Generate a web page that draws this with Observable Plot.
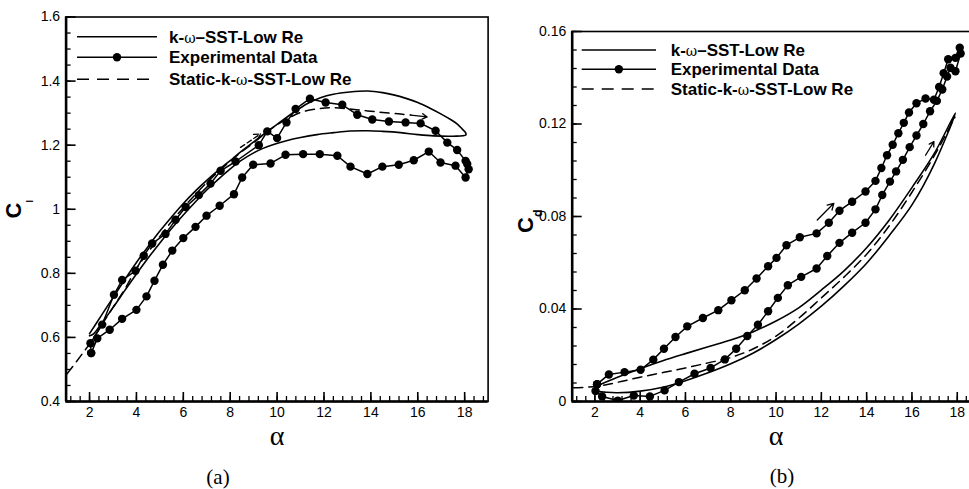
<!DOCTYPE html>
<html><head><meta charset="utf-8">
<script src="https://cdn.jsdelivr.net/npm/d3@7"></script>
<script src="https://cdn.jsdelivr.net/npm/@observablehq/plot@0.6"></script>
<style>
html,body{margin:0;padding:0;background:#fff;}
#wrap{position:relative;width:969px;height:489px;overflow:hidden;background:#fff;}
#wrap svg{position:absolute;top:0;}
</style></head><body><div id="wrap"></div>
<script>
// ---------- DATA ----------
const xTicks = [2, 4, 6, 8, 10, 12, 14, 16, 18];
const clTicks = [0.4, 0.6, 0.8, 1.0, 1.2, 1.4, 1.6];
const cdTicks = [0, 0.04, 0.08, 0.12, 0.16];
const legendLabels = ["k-ω–SST-Low Re", "Experimental Data", "Static-k-ω-SST-Low Re"];
const panelCaptions = ["(a)", "(b)"];

// (a) lift: k-omega SST dynamic loop (upstroke then downstroke)
const clSstAlpha = [2.0, 2.5, 3, 3.5, 4, 4.5, 5, 5.5, 6, 6.5, 7, 7.5, 8, 8.5, 9, 9.5, 10, 10.7, 11.3, 11.85, 12.4, 13.1, 13.86, 14.5, 14.97, 15.5, 16, 16.5, 17, 17.4, 17.7, 17.9, 18.04, 18.05,
  17.5, 16.68, 16, 15.27, 14.5, 13.86, 13.1, 12.41, 11.7, 11.0, 10.4, 9.85, 9.4, 9.0, 8.44, 8, 7.5, 7, 6.5, 6, 5.5, 5, 4.5, 4, 3.5, 3, 2.5, 2.17, 2.0];
const clSstValue = [0.612, 0.668, 0.724, 0.78, 0.834, 0.884, 0.932, 0.976, 1.018, 1.056, 1.09, 1.122, 1.152, 1.182, 1.21, 1.238, 1.265, 1.302, 1.330, 1.348, 1.359, 1.366, 1.369, 1.364, 1.357, 1.346, 1.333, 1.316, 1.297, 1.280, 1.265, 1.250, 1.239, 1.232,
  1.228, 1.229, 1.233, 1.239, 1.243, 1.245, 1.244, 1.239, 1.233, 1.224, 1.214, 1.202, 1.19, 1.176, 1.151, 1.126, 1.094, 1.06, 1.022, 0.982, 0.94, 0.895, 0.848, 0.798, 0.746, 0.693, 0.642, 0.611, 0.605];
// (a) lift: static k-omega SST
const clStaticAlpha = [1.05, 1.6, 2, 2.5, 3, 3.5, 4, 4.5, 5, 5.5, 6, 6.5, 7, 7.5, 8, 8.5, 9, 9.5, 10, 10.5, 11, 11.7, 12.4, 13.1, 13.86, 14.5, 15.27, 15.7];
const clStaticValue = [0.487, 0.540, 0.58, 0.637, 0.694, 0.75, 0.815, 0.866, 0.915, 0.962, 1.005, 1.045, 1.083, 1.118, 1.150, 1.18, 1.208, 1.238, 1.264, 1.285, 1.302, 1.313, 1.317, 1.313, 1.307, 1.302, 1.297, 1.294];
// (a) lift: experiment
const clExpAlpha = [2.07, 2.04, 2.54, 3.04, 3.39, 3.96, 4.31, 4.67, 5.24, 5.67, 6.10, 6.66, 7.16, 7.59, 8.23, 9.22, 9.58, 10.0, 10.40, 10.79, 11.40, 12.07, 12.78, 13.42, 14.06, 14.77, 15.48, 16.12, 16.76, 17.26, 17.68, 18.04, 18.11, 18.17, 18.04,
  17.61, 16.97, 16.47, 15.83, 15.19, 14.49, 13.85, 13.13, 12.57, 11.82, 11.11, 10.36, 9.72, 8.98, 8.51, 8.16, 7.55, 6.99, 6.52, 6.0, 5.53, 5.13, 4.77, 4.43, 4.0, 3.39, 2.86, 2.33, 2.07];
const clExpValue = [0.551, 0.582, 0.640, 0.733, 0.779, 0.808, 0.855, 0.893, 0.923, 0.967, 1.007, 1.044, 1.080, 1.120, 1.149, 1.200, 1.243, 1.222, 1.271, 1.313, 1.345, 1.333, 1.326, 1.295, 1.280, 1.274, 1.271, 1.268, 1.245, 1.208, 1.185, 1.151, 1.141, 1.125, 1.099,
  1.136, 1.146, 1.180, 1.153, 1.139, 1.133, 1.110, 1.133, 1.167, 1.172, 1.172, 1.170, 1.143, 1.139, 1.099, 1.047, 1.011, 0.980, 0.945, 0.910, 0.871, 0.827, 0.777, 0.728, 0.686, 0.658, 0.624, 0.597, 0.551];
// (a) direction arrows [alpha1, cl1, alpha2, cl2]
const clArrowDashed = [[8.44, 1.193, 9.29, 1.235]];
const clArrowSolid = [[15.7, 1.294, 16.4, 1.288]];

// (b) drag: k-omega SST loop
const cdSstAlpha = [2.03, 3, 4, 5, 6, 7, 8, 9, 10, 11, 12, 13, 14, 15, 16, 17, 17.92,
  17, 16, 15, 14, 13, 12, 11, 10, 9, 8, 7, 6, 5, 4, 3, 2.5, 2.03];
const cdSstValue = [0.0065, 0.0105, 0.0142, 0.0176, 0.0207, 0.0237, 0.0266, 0.0302, 0.0348, 0.0405, 0.0482, 0.0565, 0.0665, 0.0785, 0.0925, 0.1075, 0.1248,
  0.1030, 0.0850, 0.0718, 0.0598, 0.0500, 0.0412, 0.0335, 0.0268, 0.0210, 0.0163, 0.0124, 0.0090, 0.0062, 0.0045, 0.0038, 0.0040, 0.0045];
// (b) drag: static
const cdStaticAlpha = [1.07, 2.1, 3, 4, 5, 6, 7, 8, 9, 10, 11, 12, 13, 14, 15, 16, 17, 17.9];
const cdStaticValue = [0.0059, 0.0066, 0.0083, 0.0105, 0.0125, 0.0145, 0.0167, 0.0190, 0.0228, 0.0283, 0.0360, 0.0448, 0.0538, 0.0637, 0.0760, 0.0905, 0.1065, 0.1230];
// (b) drag: experiment
const cdExpAlpha = [2.1, 2.62, 3.31, 4.02, 4.58, 5.05, 5.56, 6.08, 6.77, 7.45, 8.03, 8.62, 9.14, 9.65, 10.02, 10.46, 11.05, 11.79, 12.33, 12.80, 13.36, 13.95, 14.39, 14.65, 14.90, 15.15, 15.40, 15.64, 15.87, 16.20, 16.60, 16.97, 17.20, 17.40, 17.60, 17.92, 18.11, 18.15,
  17.92, 17.70, 17.55, 17.34, 17.10, 16.80, 16.50, 16.20, 15.90, 15.60, 15.30, 15.03, 14.69, 14.39, 13.95, 13.36, 12.80, 12.26, 11.79, 11.11, 10.52, 10.08, 9.65, 9.20, 8.73, 8.24, 7.74, 7.11, 6.40, 5.71, 5.08, 4.43, 3.72, 3.01, 2.32, 2.03, 2.1];
const cdExpValue = [0.0075, 0.0117, 0.0127, 0.0137, 0.0181, 0.0228, 0.0279, 0.0325, 0.0361, 0.0395, 0.0438, 0.0481, 0.0532, 0.0585, 0.0621, 0.0676, 0.0710, 0.0727, 0.0773, 0.0825, 0.0864, 0.0908, 0.0954, 0.1010, 0.1065, 0.1110, 0.1160, 0.1205, 0.1250, 0.1290, 0.1310, 0.1305, 0.1360, 0.1420, 0.1480, 0.1486, 0.1530, 0.1505,
  0.1428, 0.1443, 0.1405, 0.1349, 0.1300, 0.1255, 0.1200, 0.1150, 0.1100, 0.1045, 0.0995, 0.0951, 0.0893, 0.0831, 0.0773, 0.0730, 0.0686, 0.0629, 0.0575, 0.0539, 0.0503, 0.0448, 0.0390, 0.0332, 0.0283, 0.0228, 0.0182, 0.0145, 0.0120, 0.0084, 0.0048, 0.0022, 0.0026, 0.0004, 0.0022, 0.0045, 0.0075];
const cdArrowSolid = [[11.82, 0.0785, 12.55, 0.0857], [16.6, 0.1065, 16.97, 0.1124]];

// ---------- DRAWING ----------
const rows = (a, v) => a.map((d, i) => ({a: d, v: v[i]}));
const arrows = (list) => list.map(([x1, y1, x2, y2]) => ({x1, y1, x2, y2}));
const fmt = (d) => String(+d.toFixed(3));
const FONT = "'Liberation Sans', Arial, Helvetica, sans-serif";
const xMinor = d3.range(1.2, 19.0, 0.4);

function panel(o) {
  const plotH = o.height - o.mT - o.mB;
  const plotW = o.width - o.mL - o.mR;
  return Plot.plot({
    width: o.width, height: o.height,
    marginLeft: o.mL, marginRight: o.mR, marginTop: o.mT, marginBottom: o.mB,
    x: {domain: [1, 19], axis: null},
    y: {domain: o.yDomain, axis: null},
    style: {fontFamily: FONT, fontSize: "14px", color: "black", background: "transparent", overflow: "visible"},
    marks: [
      Plot.line(o.sst, {x: "a", y: "v", stroke: "black", strokeWidth: 1.6, curve: "catmull-rom", clip: true}),
      Plot.line(o.stat, {x: "a", y: "v", stroke: "black", strokeWidth: 1.5, strokeDasharray: "9,6", curve: "catmull-rom", clip: true}),
      Plot.line(o.exp, {x: "a", y: "v", stroke: "black", strokeWidth: 1.5, clip: true}),
      Plot.dot(o.exp, {x: "a", y: "v", r: 4.2, fill: "black", stroke: "none", clip: true}),
      Plot.arrow(o.dashedArrows, {x1: "x1", y1: "y1", x2: "x2", y2: "y2", stroke: "black", strokeWidth: 1.3, headLength: 8, strokeDasharray: "5,3"}),
      Plot.arrow(o.solidArrows, {x1: "x1", y1: "y1", x2: "x2", y2: "y2", stroke: "black", strokeWidth: 1.3, headLength: 8}),
      // inward ticks
      Plot.ruleX(xMinor, {stroke: "black", strokeWidth: 1.3, insetTop: plotH - 5}),
      Plot.ruleX(xTicks, {stroke: "black", strokeWidth: 1.6, insetTop: plotH - 9}),
      Plot.ruleY(o.yMinor, {stroke: "black", strokeWidth: 1.3, insetRight: plotW - 5}),
      Plot.ruleY(o.yTicks, {stroke: "black", strokeWidth: 1.6, insetRight: plotW - 10}),
      Plot.frame({stroke: "black", strokeWidth: 1.6}),
      Plot.ruleY([o.yDomain[0]], {stroke: "black", strokeWidth: 2.6}),
      Plot.ruleX([1], {stroke: "black", strokeWidth: 2.6}),
      Plot.axisX(xTicks, {tickSize: 0, tickPadding: 6, tickFormat: fmt, label: null, fontSize: 14}),
      Plot.axisY(o.yTicks, {tickSize: 0, tickPadding: 6, tickFormat: fmt, label: null, fontSize: 14})
    ]
  });
}

const wrap = document.getElementById("wrap");
const left = panel({
  width: 500, height: 440, mL: 65.6, mR: 12.4, mT: 16.5, mB: 39,
  yDomain: [0.4, 1.6], yTicks: clTicks, yMinor: d3.range(0.4, 1.6001, 0.05),
  sst: rows(clSstAlpha, clSstValue), stat: rows(clStaticAlpha, clStaticValue), exp: rows(clExpAlpha, clExpValue),
  dashedArrows: arrows(clArrowDashed), solidArrows: arrows(clArrowSolid)
});
left.style.left = "0px";
wrap.appendChild(left);

const right = panel({
  width: 510, height: 440, mL: 91.7, mR: 10.6, mT: 31, mB: 39,
  yDomain: [0, 0.16], yTicks: cdTicks, yMinor: d3.range(0, 0.1601, 0.008),
  sst: rows(cdSstAlpha, cdSstValue), stat: rows(cdStaticAlpha, cdStaticValue), exp: rows(cdExpAlpha, cdExpValue),
  dashedArrows: [], solidArrows: arrows(cdArrowSolid)
});
right.style.left = "480px";
wrap.appendChild(right);

// ---------- OVERLAY: legends, axis titles, captions ----------
const NS = "http://www.w3.org/2000/svg";
const ov = document.createElementNS(NS, "svg");
ov.setAttribute("width", 969); ov.setAttribute("height", 489);
ov.style.left = "0px";
ov.style.fontFamily = FONT;
wrap.appendChild(ov);
const el = (tag, attrs, parent = ov) => { const e = document.createElementNS(NS, tag); for (const k in attrs) e.setAttribute(k, attrs[k]); parent.appendChild(e); return e; };

function legend(x0, x1, xt, ys) {
  const styles = [{dash: null, dot: false}, {dash: null, dot: true}, {dash: "12,8", dot: false}];
  legendLabels.forEach((lab, i) => {
    const y = ys[i];
    const ln = el("line", {x1: x0, x2: x1, y1: y, y2: y, stroke: "black", "stroke-width": 1.6});
    if (styles[i].dash) ln.setAttribute("stroke-dasharray", styles[i].dash);
    if (styles[i].dot) el("circle", {cx: (x0 + x1) / 2, cy: y, r: 4.2, fill: "black"});
    const t = el("text", {x: xt, y: y + 6, "font-size": 17, "font-weight": "bold", fill: "black"});
    lab.split("ω").forEach((part, j) => {
      if (j > 0) { const w = el("tspan", {"font-weight": "normal", "font-size": 14, "font-family": "'DejaVu Serif', serif"}, t); w.textContent = "ω"; }
      const s = el("tspan", {}, t); s.textContent = part;
    });
  });
}
legend(77, 157, 169, [36.7, 57.3, 79.3]);
legend(581.7, 656, 670.7, [50, 69.3, 89]);

function alphaLabel(x, y) {
  const t = el("text", {x, y, "text-anchor": "middle", "font-size": 28, "font-family": "'Liberation Serif', 'Times New Roman', serif", fill: "black"});
  t.textContent = "α";
}
alphaLabel(277, 445);
alphaLabel(776, 445);

function yTitle(x, y, sub, subSize, subDy) {
  const t = el("text", {transform: `translate(${x},${y}) rotate(-90)`, "font-size": 22, "font-weight": "bold", fill: "black"});
  const c = el("tspan", {}, t); c.textContent = "C";
  const s = el("tspan", {"font-size": subSize, dy: subDy}, t); s.textContent = sub;
}
yTitle(21, 218.5, "l", 9, 12);
yTitle(533, 233, "d", 12.5, 9);

function caption(x, y, txt) {
  const t = el("text", {x, y, "text-anchor": "middle", "dominant-baseline": "central", "font-size": 21, "font-family": "'Liberation Serif', 'Times New Roman', serif", fill: "black"});
  t.textContent = txt;
}
caption(218, 477, panelCaptions[0]);
caption(782, 476, panelCaptions[1]);
</script></body></html>
